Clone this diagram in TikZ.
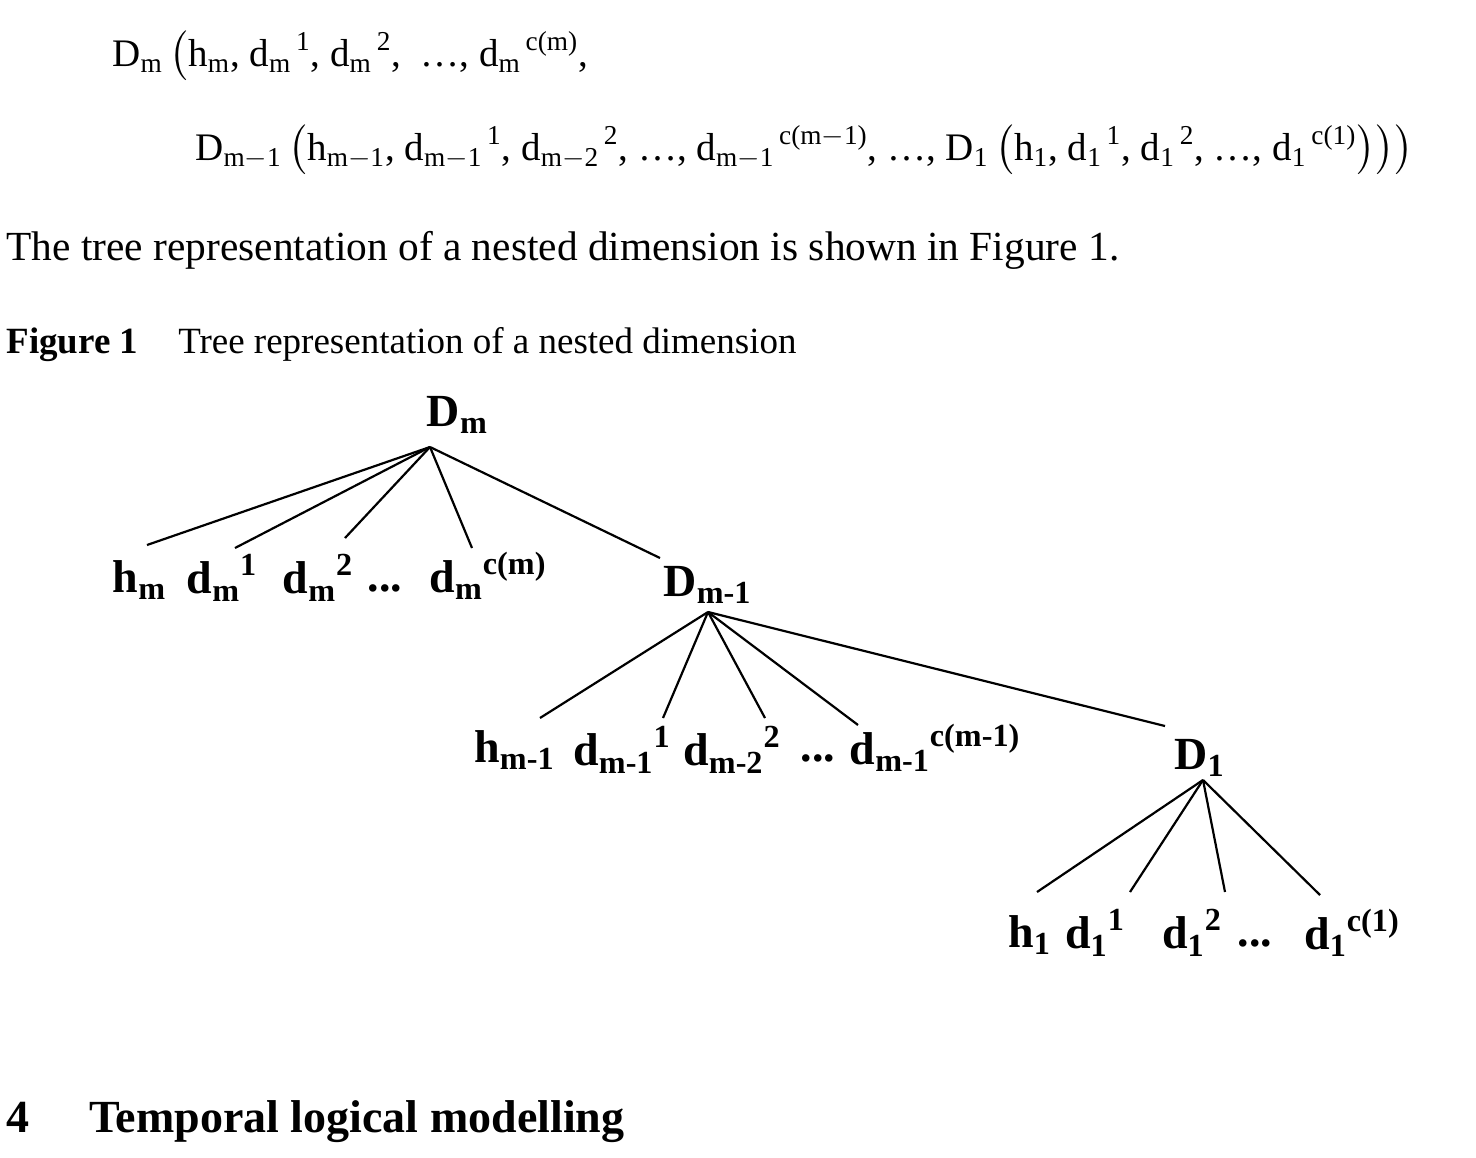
\documentclass[tikz,border=0pt]{standalone}
\usepackage{amsmath}
\usepackage{fontspec}
\setmainfont{Liberation Serif}
\newcommand{\ix}[3]{#1$_{\text{#2}}{}^{\,\text{#3}}$}
\newcommand{\bx}[3]{\textbf{#1}$_{\text{\bfseries #2}}{}^{\text{\bfseries #3}}$}
\begin{document}
\begin{tikzpicture}[x=0.5pt,y=-0.5pt,
  body/.style={anchor=base west,inner sep=0,font=\fontsize{20.7}{23}\selectfont},
  formula/.style={anchor=base west,inner sep=0,font=\fontsize{19.5}{22}\selectfont},
  lab/.style={inner sep=0,font=\fontsize{23}{26}\selectfont},
  edge/.style={line width=1.1pt}]
\useasboundingbox (0,0) rectangle (1476,1157);
% formula
\node[formula] (f1) at (112,66) {D$_\text{m}$\,$\bigl($h$_\text{m}$, \ix{d}{m}{1}, \ix{d}{m}{2}, \ …, \ix{d}{m}{c(m)},};
\node[formula] (f2) at (195,160) {D$_\text{m$-$1}$\,$\bigl($h$_\text{m$-$1}$, \ix{d}{m$-$1}{1}, \ix{d}{m$-$2}{2}, …, \ix{d}{m$-$1}{c(m$-$1)}, …, D$_\text{1}$\,$\bigl($h$_\text{1}$, \ix{d}{1}{1}, \ix{d}{1}{2}, …, \ix{d}{1}{c(1)}$\bigr)\bigr)\bigr)$};
\node[body] (t1) at (6,260) {The tree representation of a nested dimension is shown in Figure 1.};
\node[body,font=\fontsize{18.5}{21}\selectfont] (cap) at (6,353) {\textbf{Figure 1}\hspace{20pt}Tree representation of a nested dimension};
\node[body,font=\fontsize{23}{26}\selectfont\bfseries] (sec) at (6,1132) {4\hspace{30pt}Temporal logical modelling};
% tree level 1
\node[lab] (Dm) at (458,415) {\bx{D}{m}{}};
\coordinate (a0) at (430,447);
\node[lab] (hm) at (140,580) {\bx{h}{m}{}};
\node[lab] (dm1) at (222,578) {\bx{d}{m}{1}};
\node[lab] (dm2) at (318,578) {\bx{d}{m}{2}};
\node[lab] (e1) at (385,588) {\textbf{...}};
\node[lab] (dmc) at (488,576) {\bx{d}{m}{c(m)}};
\node[lab] (Dm1) at (708,585) {\bx{D}{m-1}{}};
\coordinate (b1) at (147,545); \coordinate (b2) at (235,548);
\coordinate (b3) at (345,538); \coordinate (b4) at (472,548);
\coordinate (b5) at (660,558);
\foreach \t in {b1,b2,b3,b4,b5} \draw[edge] (a0) -- (\t);
% tree level 2
\coordinate (a1) at (708,612);
\node[lab] (hm1) at (515,750) {\bx{h}{m-1}{}};
\node[lab] (d11) at (622,750) {\bx{d}{m-1}{1}};
\node[lab] (d22) at (732,750) {\bx{d}{m-2}{2}};
\node[lab] (e2) at (818,758) {\textbf{...}};
\node[lab] (dc1) at (935,748) {\bx{d}{m-1}{c(m-1)}};
\node[lab] (D1) at (1200,758) {\bx{D}{1}{}};
\coordinate (c1) at (540,718); \coordinate (c2) at (663,718);
\coordinate (c3) at (765,718); \coordinate (c4) at (858,725);
\coordinate (c5) at (1165,726);
\foreach \t in {c1,c2,c3,c4,c5} \draw[edge] (a1) -- (\t);
% tree level 3
\coordinate (a2) at (1203,780);
\node[lab] (h1) at (1030,935) {\bx{h}{1}{}};
\node[lab] (x1) at (1095,933) {\bx{d}{1}{1}};
\node[lab] (x2) at (1192,933) {\bx{d}{1}{2}};
\node[lab] (e3) at (1255,943) {\textbf{...}};
\node[lab] (xc) at (1352,933) {\bx{d}{1}{c(1)}};
\coordinate (g1) at (1037,892); \coordinate (g2) at (1130,892);
\coordinate (g3) at (1225,892); \coordinate (g4) at (1320,895);
\foreach \t in {g1,g2,g3,g4} \draw[edge] (a2) -- (\t);
\end{tikzpicture}
\end{document}
